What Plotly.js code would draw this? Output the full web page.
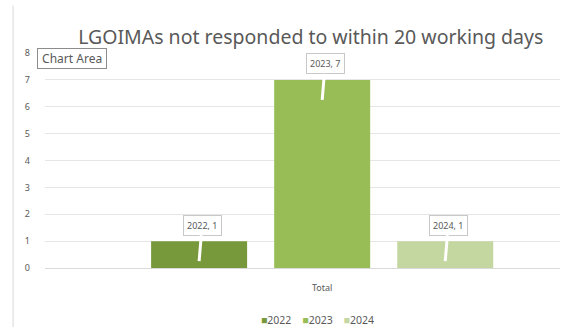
<!DOCTYPE html>
<html>
<head>
<meta charset="utf-8">
<script src="https://cdn.plot.ly/plotly-3.0.1.min.js"></script>
<style>html,body{margin:0;padding:0;background:#fff;}#chart{width:564px;height:327px;}</style>
</head>
<body>
<div id="chart"></div>
<script>
const categories = ["Total"];
const seriesNames = ["2022", "2023", "2024"];
const values2022 = [1];
const values2023 = [7];
const values2024 = [1];
const seriesColors = ["#77983b", "#98bd56", "#c4d7a1"];
const titleText = "LGOIMAs not responded to within 20 working days";

const seriesValues = [values2022, values2023, values2024];
const bargap = 0.334, bargroupgap = 0.22;
const traces = seriesNames.map((name, i) => ({
  type: "bar",
  name: name,
  x: categories,
  y: seriesValues[i],
  marker: {color: seriesColors[i]},
  hoverinfo: "none"
}));

// callout labels placed from the data (slot offsets from group layout)
const plotW = 564 - 45 - 4;
const xRange = [-0.5, 0.429];
const pxPerUnit = plotW / (xRange[1] - xRange[0]);
const slot = (1 - bargap) / seriesNames.length * pxPerUnit;
const annotations = [];
seriesNames.forEach((name, i) => {
  seriesValues[i].forEach((v, j) => {
    annotations.push({
      x: categories[j], y: v, xref: "x", yref: "y",
      xshift: (i - (seriesNames.length - 1) / 2) * slot,
      yshift: -20,
      text: name + ", " + v,
      showarrow: true, arrowhead: 0, arrowwidth: 3, arrowcolor: "#ffffff",
      ax: 3, ay: -36, standoff: 0,
      bgcolor: "#ffffff", bordercolor: "#c8c8c8", borderwidth: 1, borderpad: 3,
      font: {family: "Noto Sans", size: 9, color: "#595959"}
    });
  });
});
annotations.push({
  xref: "paper", yref: "paper", x: -0.016, y: 0.975, xanchor: "left", yanchor: "middle",
  text: "&nbsp;Chart Area&nbsp;", showarrow: false, bgcolor: "#ffffff", bordercolor: "#8c8c8c",
  borderwidth: 1, borderpad: 1, font: {family: "Noto Sans", size: 12, color: "#595959"}
});
// legend row built from series names and colours
annotations.push({
  xref: "paper", yref: "paper", x: 0.53, y: (268 - 320) / 215, xanchor: "center", yanchor: "middle",
  showarrow: false,
  text: seriesNames.map((n, i) => '<span style="color:' + seriesColors[i] + '">■</span>' + n).join("&nbsp;&nbsp;&nbsp;&nbsp;"),
  font: {family: "Noto Sans", size: 10.5, color: "#595959"}
});

const layout = {
  width: 564, height: 327,
  margin: {l: 45, r: 4, t: 53, b: 59, autoexpand: false},
  paper_bgcolor: "#ffffff", plot_bgcolor: "#ffffff",
  title: {text: titleText, x: 0.551, xanchor: "center", y: 0.885, yanchor: "middle",
          font: {family: "Noto Sans", size: 19.5, color: "#595959"}},
  barmode: "group", bargap: bargap, bargroupgap: bargroupgap,
  showlegend: false,
  xaxis: {type: "category", range: xRange, showgrid: false, zeroline: false, showline: false, automargin: false,
          ticks: "", ticklabelstandoff: 13, tickfont: {family: "Noto Sans", size: 9, color: "#595959"}},
  yaxis: {range: [0, 8], dtick: 1, showgrid: true, gridcolor: "#e6e6e6", gridwidth: 1, automargin: false,
          zeroline: true, zerolinecolor: "#d9d9d9", showline: false, ticks: "",
          ticklabelstandoff: 14, tickfont: {family: "Noto Sans", size: 9, color: "#595959"}},
  annotations: annotations,
  shapes: [{type: "line", xref: "paper", yref: "paper", x0: -0.062, x1: -0.062, y0: -0.29, y1: 1.22,
            line: {color: "#d9d9d9", width: 1}}]
};
Plotly.newPlot("chart", traces, layout, {staticPlot: true});
</script>
</body>
</html>
